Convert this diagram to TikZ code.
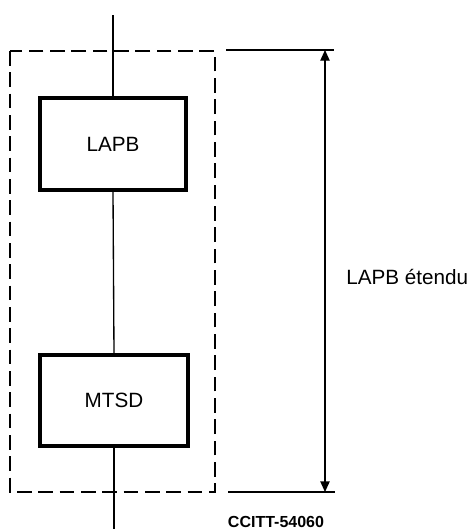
\documentclass[tikz,border=0pt]{standalone}
\usepackage{fontspec}
\setmainfont{Liberation Sans}
\usetikzlibrary{arrows.meta}
\begin{document}
\begin{tikzpicture}[x=0.75pt,y=-0.75pt,
  blockbox/.style={draw,line width=2.8pt,minimum width=109pt,minimum height=69pt,inner sep=0pt,font=\fontsize{15.5}{18}\selectfont},
  thinline/.style={line width=1pt},
  dashbox/.style={line width=1pt,dash pattern=on 11pt off 5pt},
  dimarrow/.style={line width=1pt,{Triangle[length=8pt,width=7pt]}-{Triangle[length=8pt,width=7pt]}}
]
\useasboundingbox (0,0) rectangle (472,529);
\node[blockbox] (lapb) at (113,144) {LAPB};
\node[blockbox,minimum width=111pt,minimum height=68pt] (mtsd) at (114,400.5) {MTSD};
\coordinate (topend) at (113,15);
\coordinate (botend) at (114,529);
\draw[thinline] (topend) -- (lapb.north);
\draw[thinline] (lapb.south) -- (mtsd.north);
\draw[thinline] (mtsd.south) -- (botend);
\draw[dashbox] (10,51) rectangle (215,492);
\coordinate (t1) at (226,50);
\coordinate (t2) at (334,50);
\coordinate (b1) at (228,492);
\coordinate (b2) at (335,492);
\coordinate (at) at (325,50);
\coordinate (ab) at (325,492);
\draw[thinline] (t1) -- (t2);
\draw[thinline] (b1) -- (b2);
\draw[dimarrow] (at) -- (ab);
\node[anchor=west,inner sep=0pt,font=\fontsize{15.5}{18}\selectfont] (lbl) at (346,277) {LAPB étendu};
\node[anchor=center,inner sep=0pt,font=\bfseries\fontsize{12}{14}\selectfont] (ref) at (276,522) {CCITT-54060};
\end{tikzpicture}
\end{document}
